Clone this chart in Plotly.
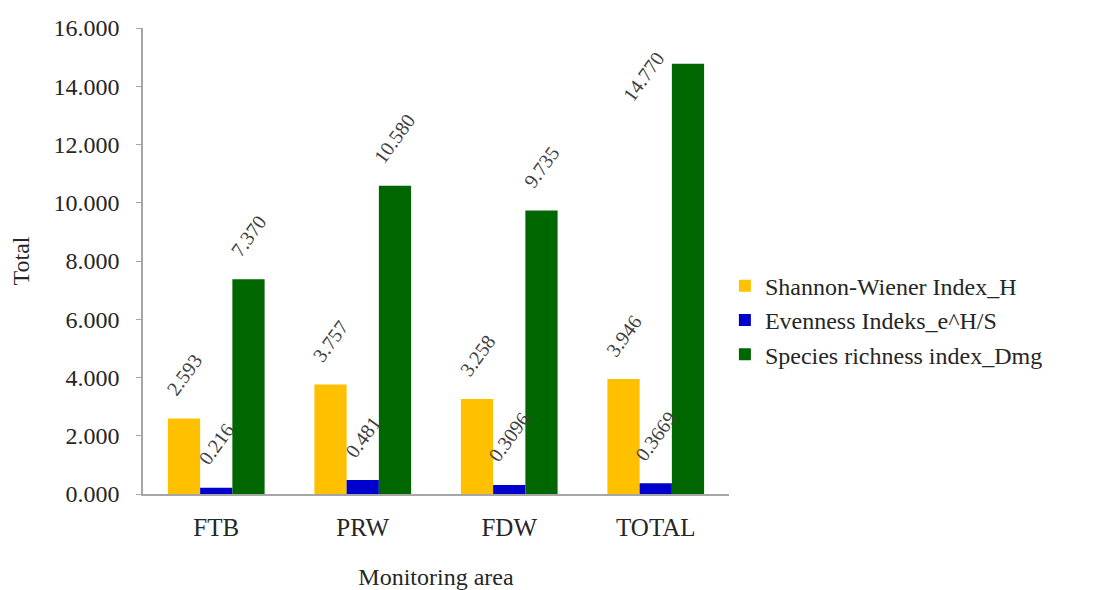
import plotly.graph_objects as go

areas = ["FTB", "PRW", "FDW", "TOTAL"]
shannon_h = [2.593, 3.757, 3.258, 3.946]
evenness = [0.216, 0.481, 0.3096, 0.3669]
richness = [7.370, 10.580, 9.735, 14.770]

shannon_labels = ["2.593", "3.757", "3.258", "3.946"]
evenness_labels = ["0.216", "0.481", "0.3096", "0.3669"]
richness_labels = ["7.370", "10.580", "9.735", "14.770"]

series = [
    ("Shannon-Wiener Index_H", shannon_h, shannon_labels, "#FFC000"),
    ("Evenness Indeks_e^H/S", evenness, evenness_labels, "#0000CC"),
    ("Species richness index_Dmg", richness, richness_labels, "#006600"),
]

font_family = "Liberation Serif, Times New Roman, serif"
y_max = 16
bar_gap = 0.34
bar_width = (1 - bar_gap) / len(series)
label_angle = -54
label_font = dict(family=font_family, size=20, color="#404040")

fig = go.Figure()
annotations = []
for k, (name, vals, labels, color) in enumerate(series):
    fig.add_trace(go.Bar(
        x=areas, y=vals, name=name, legendgroup=name,
        marker=dict(color=color, line=dict(width=0)),
        hoverinfo="x+y+name",
    ))
    # value labels sit above each bar, rotated; a bar too close to the top
    # gets its label beside it on the left instead
    offset = (k - (len(series) - 1) / 2) * bar_width
    for i, (v, t) in enumerate(zip(vals, labels)):
        if v + 2.5 > y_max:
            annotations.append(dict(
                x=i + offset - bar_width / 2, y=v, xref="x", yref="y",
                text=t, showarrow=False, textangle=label_angle,
                xanchor="right", yanchor="middle", xshift=-1, yshift=-13,
                font=label_font,
            ))
        else:
            annotations.append(dict(
                x=i + offset, y=v, xref="x", yref="y",
                text=t, showarrow=False, textangle=label_angle,
                xanchor="center", yanchor="bottom", yshift=16,
                font=label_font,
            ))

fig.update_layout(
    width=1103, height=590,
    margin=dict(l=143, r=374, t=28, b=96, autoexpand=False),
    paper_bgcolor="white", plot_bgcolor="white",
    barmode="group", bargap=bar_gap, bargroupgap=0,
    font=dict(family=font_family, color="#262626"),
    annotations=annotations,
    showlegend=True,
    legend=dict(
        x=0.993, y=0.373, xanchor="left", yanchor="middle",
        font=dict(family=font_family, size=24, color="#262626"),
        itemsizing="constant", tracegroupgap=0, itemwidth=30,
    ),
    xaxis=dict(
        automargin=False,
        showline=True, linecolor="#A6A6A6", linewidth=2,
        ticks="", showgrid=False,
        tickfont=dict(family=font_family, size=25, color="#262626"),
        ticklabelstandoff=10,
        title=dict(text="Monitoring area", standoff=34,
                   font=dict(family=font_family, size=24, color="#262626")),
    ),
    yaxis=dict(
        automargin=False,
        range=[0, y_max], dtick=2, tickformat=".3f",
        showline=True, linecolor="#A6A6A6", linewidth=1.5,
        ticks="outside", ticklen=5, tickcolor="#A6A6A6",
        showgrid=False, zeroline=False,
        tickfont=dict(family=font_family, size=24, color="#262626"),
        ticklabelstandoff=12,
        title=dict(text="Total", standoff=17,
                   font=dict(family=font_family, size=24, color="#262626")),
    ),
)

fig.write_html("out.html")
